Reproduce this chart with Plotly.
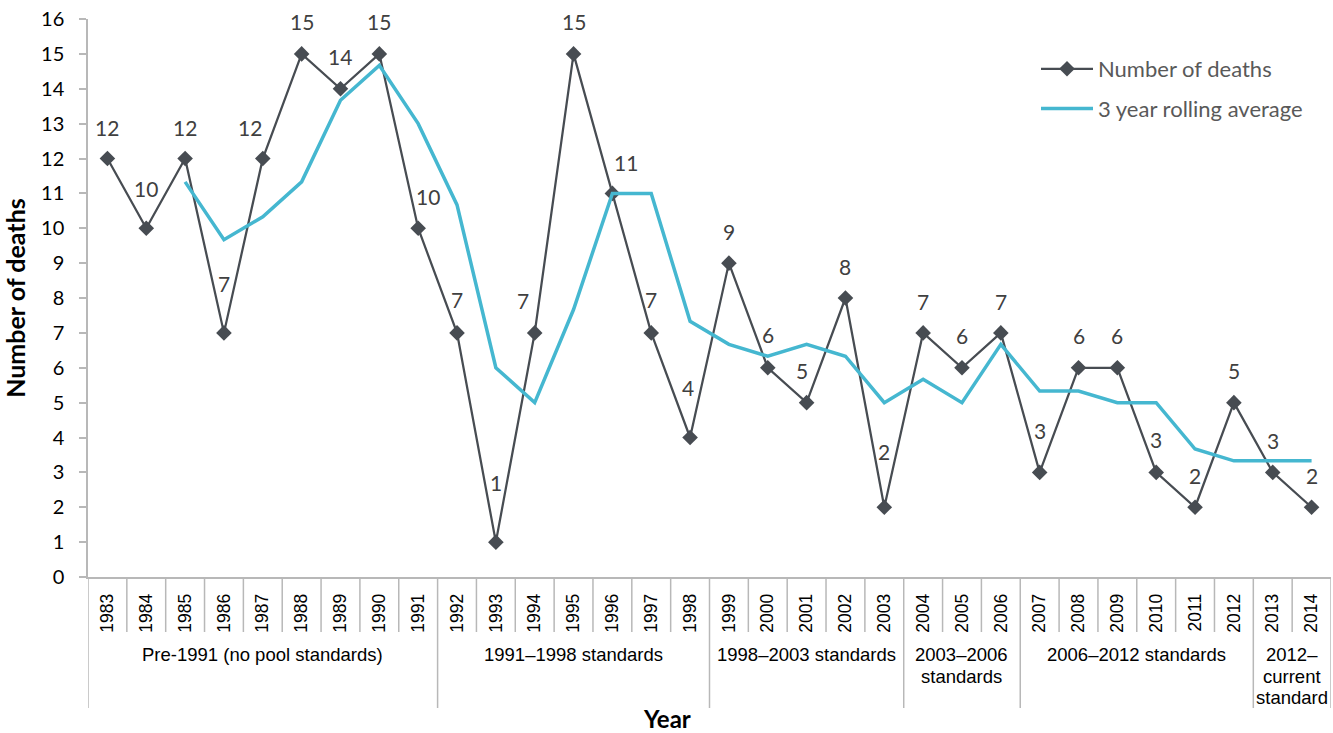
import plotly.graph_objects as go

# ---- data -------------------------------------------------------------
years = [str(y) for y in range(1983, 2015)]
deaths = [12, 10, 12, 7, 12, 15, 14, 15, 10, 7, 1, 7, 15, 11, 7, 4,
          9, 6, 5, 8, 2, 7, 6, 7, 3, 6, 6, 3, 2, 5, 3, 2]
rolling_avg = [None, None, 11.33, 9.67, 10.33, 11.33, 13.67, 14.67, 13.0,
               10.67, 6.0, 5.0, 7.67, 11.0, 11.0, 7.33, 6.67, 6.33, 6.67,
               6.33, 5.0, 5.67, 5.0, 6.67, 5.33, 5.33, 5.0, 5.0, 3.67,
               3.33, 3.33, 3.33]
period_labels = [["Pre-1991 (no pool standards)"], ["1991–1998 standards"],
                 ["1998–2003 standards"], ["2003–2006", "standards"],
                 ["2006–2012 standards"], ["2012–", "current", "standard"]]
period_sizes = [9, 7, 5, 3, 6, 2]

# per-label nudges (px) for the value labels
label_dx = [0, 0, 0, 0, -13, 0, 0, 0, 10, 0, 0, -12, 0, 14, 0, -2,
            0, 0, -5, 0, 0, 0, 0, 0, 0, 0, 0, 0, 0, 0, 0, 0]
label_dy = [31, 40, 31, 49, 31, 32, 32, 32, 32, 33, 60, 32, 32, 31, 33, 50,
            32, 33, 32, 32, 56, 31, 32, 31, 42, 32, 32, 33, 32, 32, 32, 32]

# ---- styling ----------------------------------------------------------
DARK = "#474C52"
CYAN = "#45B7D0"
AXIS_GREY = "#B8B8B8"
CAL = "Lato, 'Open Sans', sans-serif"
ARIAL = "'Liberation Sans', Arial, sans-serif"

W, H = 1333, 733
M_L, M_R, M_T, M_B = 88, 2, 19, 156
PLOT_H = H - M_T - M_B


def px_to_paper_y(px_below_axis):
    """Convert a pixel distance below the x axis into paper y."""
    return -px_below_axis / PLOT_H


fig = go.Figure()

fig.add_trace(go.Scatter(
    x=years, y=deaths, name="Number of deaths",
    mode="lines+markers",
    line=dict(color=DARK, width=2.25),
    marker=dict(symbol="diamond", size=12, color=DARK),
    legendgroup="a",
))
fig.add_trace(go.Scatter(
    x=years, y=rolling_avg, name="3 year rolling average",
    mode="lines",
    line=dict(color=CYAN, width=3.5),
    connectgaps=False,
    legendgroup="b",
))

annotations = []
# value labels above each point (x given as category index)
for i, (v, dx, dy) in enumerate(zip(deaths, label_dx, label_dy)):
    annotations.append(dict(
        x=i, y=v, xref="x", yref="y", text=str(v), showarrow=False,
        xanchor="center", yanchor="middle",
        xshift=dx, yshift=dy,
        font=dict(family=CAL, size=21, color="#404040"),
    ))

# period group labels and separators under the year labels
shapes = []
bounds = [0]
for s in period_sizes:
    bounds.append(bounds[-1] + s)

for i in range(len(years) + 1):
    is_group = i in bounds
    shapes.append(dict(
        type="line", xref="x", yref="paper",
        x0=i - 0.5, x1=i - 0.5,
        y0=0, y1=px_to_paper_y(131 if is_group else 55),
        line=dict(color=AXIS_GREY, width=1.5),
    ))

for lines, a, b in zip(period_labels, bounds[:-1], bounds[1:]):
    for k, line_text in enumerate(lines):
        annotations.append(dict(
            x=(a + b - 1) / 2, y=px_to_paper_y(78 + 21 * k),
            xref="x", yref="paper", xanchor="center", yanchor="middle",
            text=line_text, showarrow=False,
            font=dict(family=ARIAL, size=18.5, color="#000000"),
        ))

# x axis title
annotations.append(dict(
    x=(667 - M_L) / (W - M_L - M_R), y=px_to_paper_y(141), xref="paper",
    yref="paper", xanchor="center", yanchor="middle",
    text="<b>Year</b>", showarrow=False,
    font=dict(family=CAL, size=24, color="#000000"),
))

fig.update_layout(
    width=W, height=H,
    margin=dict(l=M_L, r=M_R, t=M_T, b=M_B, autoexpand=False),
    paper_bgcolor="white", plot_bgcolor="white",
    showlegend=True,
    legend=dict(
        x=(1036 - M_L) / (W - M_L - M_R), xanchor="left",
        y=(577 - 48) / PLOT_H, yanchor="top",
        font=dict(family=CAL, size=22, color="#595959"),
        bgcolor="rgba(0,0,0,0)", tracegroupgap=8, itemwidth=52,
    ),
    annotations=annotations,
    shapes=shapes,
    xaxis=dict(
        type="category", categoryorder="array", categoryarray=years,
        range=[-0.5, len(years) - 0.5],
        showline=True, linecolor=AXIS_GREY, linewidth=1.5,
        showgrid=False, zeroline=False, ticks="",
        tickangle=-90, ticklabelstandoff=8,
        tickfont=dict(family=ARIAL, size=17.5, color="#000000"),
    ),
    yaxis=dict(
        range=[0, 16], dtick=1, tick0=0,
        showline=True, linecolor=AXIS_GREY, linewidth=1.5,
        showgrid=False, zeroline=False,
        ticks="outside", ticklen=7, tickcolor=AXIS_GREY, tickwidth=1.5,
        ticklabelstandoff=11,
        tickfont=dict(family=CAL, size=20, color="#000000"),
        title=dict(text="<b>Number of deaths</b>", standoff=8,
                   font=dict(family=CAL, size=25, color="#000000")),
    ),
)

fig.write_html("out.html")
